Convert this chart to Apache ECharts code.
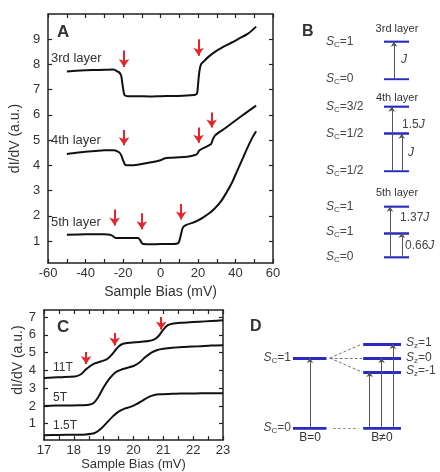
<!DOCTYPE html>
<html>
<head>
<meta charset="utf-8">
<script src="https://cdn.jsdelivr.net/npm/echarts@6/dist/echarts.min.js"></script>
<style>
  html, body { margin: 0; padding: 0; background: #fff; }
  #chart { width: 440px; height: 472px; }
</style>
</head>
<body>
<div id="chart"></div>
<script>
// ---- panel A: dI/dV for three layers ----
const layer3X = [-50, -45, -40, -35, -30, -25, -23, -22, -21, -20.5, -20, -19.5, -19, -17, -12, -6, 0, 6, 12, 16, 18.5, 19.5, 20, 20.5, 21, 21.7, 23, 26, 29, 33, 38, 42, 46.7, 51]
const layer3Y = [7.72, 7.75, 7.77, 7.78, 7.79, 7.8, 7.72, 7.68, 7.55, 7.3, 7.05, 6.85, 6.77, 6.74, 6.74, 6.73, 6.74, 6.75, 6.76, 6.78, 6.8, 6.86, 7.2, 7.6, 7.85, 8.02, 8.12, 8.33, 8.5, 8.68, 8.87, 9.03, 9.22, 9.5]

const layer4X = [-50, -45, -40, -35, -30, -25, -22, -21, -20, -19, -18, -15, -10, -5, 0, 2, 5, 10, 15, 18, 19.5, 20.5, 22, 24, 26, 27, 28, 29, 31, 35, 40, 45, 51]
const layer4Y = [4.45, 4.5, 4.54, 4.57, 4.6, 4.6, 4.51, 4.4, 4.2, 4.03, 4.0, 4.0, 4.05, 4.12, 4.2, 4.27, 4.3, 4.32, 4.35, 4.4, 4.45, 4.58, 4.65, 4.72, 4.8, 4.85, 5.05, 5.18, 5.3, 5.5, 5.78, 6.05, 6.37]

const layer5X = [-50, -40, -30, -27, -25.5, -24, -20, -15, -12, -11, -10, -9, -5, 0, 5, 9, 10, 11, 12, 14, 17, 20, 23, 26, 29, 32, 35, 38, 41, 44, 47, 49, 51]
const layer5Y = [1.25, 1.27, 1.27, 1.25, 1.2, 1.12, 1.12, 1.12, 1.12, 1.05, 0.92, 0.88, 0.87, 0.88, 0.88, 0.9, 1.0, 1.3, 1.55, 1.65, 1.72, 1.82, 1.95, 2.1, 2.3, 2.55, 2.9, 3.3, 3.8, 4.3, 4.8, 5.1, 5.35]

const arrowAX = [-19.5, 20.3, -19.5, 20.3, 27.3, -24.5, -10, 11]
const arrowATop = [8.55, 9.0, 5.4, 5.5, 6.1, 2.25, 2.1, 2.47]
const arrowABot = [7.9, 8.35, 4.8, 4.9, 5.5, 1.62, 1.47, 1.85]

const tickA = [1, 2, 3, 4, 5, 6, 7, 8, 9]

// ---- panel C: field dependence, 5th layer ----
const c11X = [17, 17.3, 17.6, 17.9, 18.1, 18.25, 18.4, 18.55, 18.7, 18.9, 19.1, 19.25, 19.4, 19.5, 19.65, 19.9, 20.2, 20.5, 20.7, 20.85, 21.0, 21.15, 21.3, 21.6, 22, 22.4, 22.8, 23]
const c11Y = [3.57, 3.6, 3.62, 3.64, 3.68, 3.8, 4.05, 4.25, 4.4, 4.5, 4.62, 4.85, 5.15, 5.35, 5.5, 5.56, 5.6, 5.65, 5.75, 5.95, 6.3, 6.55, 6.63, 6.68, 6.72, 6.76, 6.8, 6.82]

const c5X = [17, 17.4, 17.8, 18.2, 18.5, 18.65, 18.8, 19.0, 19.2, 19.4, 19.6, 19.8, 20.0, 20.2, 20.4, 20.6, 20.8, 21.0, 21.3, 21.7, 22.2, 22.6, 23]
const c5Y = [2.0, 2.02, 2.03, 2.04, 2.07, 2.15, 2.45, 3.05, 3.55, 3.9, 4.05, 4.15, 4.25, 4.45, 4.75, 5.0, 5.15, 5.22, 5.28, 5.32, 5.36, 5.4, 5.42]

const c15X = [17, 17.5, 18, 18.4, 18.7, 18.9, 19.1, 19.3, 19.5, 19.7, 19.9, 20.1, 20.3, 20.5, 20.7, 20.9, 21.2, 21.6, 22, 22.5, 23]
const c15Y = [0.35, 0.37, 0.38, 0.4, 0.48, 0.7, 1.05, 1.4, 1.68, 1.85, 1.95, 2.1, 2.3, 2.5, 2.62, 2.66, 2.68, 2.7, 2.7, 2.72, 2.72]

const arrowCX = [18.41, 19.37, 20.93]
const arrowCTop = [5.03, 6.1, 7.0]
const arrowCBot = [4.36, 5.4, 6.3]

const tickC = [1, 2, 3, 4, 5, 6, 7]

// ---- panel B: level schemes (energies in J, as drawn) ----
const levels3 = [0, 1]
const levels4 = [0, 0.87, 1.5]
const levels5 = [0, 0.66, 1.37]
const trans3X = [0.4]
const trans3To = [1]
const trans4X = [0.31, 0.71]
const trans4To = [1.5, 0.87]
const trans5X = [0.24, 0.71]
const trans5To = [1.37, 0.66]

// ---- panel D: Zeeman splitting ----
const levelsD0 = [0, 1]              // B = 0
const levelsDB = [0, 0.8, 1.0, 1.2]  // B != 0
const transDX = [0.157, 0.71, 0.82, 0.925]
const transDTo = [1.0, 0.8, 1.0, 1.2]
const splitTo = [1.2, 1.0, 0.8]

const font = "'Liberation Sans', Arial, sans-serif"
const ink = '#222'
const red = '#e3262b'
const blue = '#2a2ac2'

const zip = (xs, ys) => xs.map((x, i) => [x, ys[i]])
const vsegs = (xs, y0, y1) => xs.map((x, i) => ({ coords: [[x, Array.isArray(y0) ? y0[i] : y0], [x, y1[i]]] }))

function frameX(gridIndex, pos, min, max, interval, label, name, nameGap, nameSize) {
  return {
    gridIndex, type: 'value', position: pos, min, max, interval,
    axisLine: { onZero: false, lineStyle: { color: ink, width: 1.5 } },
    axisTick: { inside: true, length: 4, lineStyle: { color: ink, width: 1.2 } },
    axisLabel: label ? { show: true, formatter: label, color: '#333', fontSize: 13, fontFamily: font, margin: 4 } : { show: false },
    splitLine: { show: false },
    name: name || '', nameLocation: 'middle', nameGap: nameGap || 0,
    nameTextStyle: { fontSize: nameSize || 14, color: '#333', fontFamily: font }
  }
}
function frameY(gridIndex, pos, min, max, ticks, showLabel, name, nameGap, pad) {
  return {
    gridIndex, type: 'value', position: pos, min, max,
    axisLine: { onZero: false, lineStyle: { color: ink, width: 1.5 } },
    axisTick: { inside: true, length: 4, customValues: ticks, lineStyle: { color: ink, width: 1.2 } },
    axisLabel: showLabel ? { show: true, customValues: ticks, color: '#333', fontSize: 13, fontFamily: font, margin: 8 } : { show: false },
    splitLine: { show: false },
    name: name || '', nameLocation: 'middle', nameGap: nameGap || 0,
    nameTextStyle: { fontSize: 14, color: '#333', fontFamily: font, padding: pad || 0 }
  }
}
function hidden(gridIndex, min, max) {
  return { gridIndex, type: 'value', min, max, show: false, splitLine: { show: false } }
}
function curve(x, y, xi, yi) {
  return { type: 'line', data: zip(x, y), xAxisIndex: xi, yAxisIndex: yi, showSymbol: false, smooth: 0.25,
    lineStyle: { color: '#111', width: 2 }, silent: true }
}
function arrows(data, xi, yi, color, width, size) {
  return { type: 'lines', coordinateSystem: 'cartesian2d', xAxisIndex: xi, yAxisIndex: yi, data,
    symbol: ['none', 'arrow'], symbolSize: size, lineStyle: { color, width, opacity: 1, curveness: 0 }, silent: true }
}
function levels(vals, x0, x1, xi, yi, width) {
  return { type: 'lines', coordinateSystem: 'cartesian2d', xAxisIndex: xi, yAxisIndex: yi,
    data: vals.map(v => ({ coords: [[x0, v], [x1, v]] })), symbol: 'none',
    lineStyle: { color: blue, width, opacity: 1 }, silent: true }
}

const rich = {
  i: { fontStyle: 'italic', fontSize: 12, fontFamily: font, fill: '#444', lineHeight: 14, verticalAlign: 'middle' },
  b: { fontSize: 8, fontFamily: font, fill: '#444', lineHeight: 14, verticalAlign: 'bottom' },
  t: { fontSize: 12, fontFamily: font, fill: '#444', lineHeight: 14, verticalAlign: 'middle' }
}
function sText(sub, val, x, y, align) {
  return { type: 'text', x, y, silent: true,
    style: { text: `{i|S}{b|${sub}}{t|=${val}}`, rich, align: align || 'left', verticalAlign: 'middle' } }
}
function jText(num, x, y) {
  return { type: 'text', x, y, silent: true,
    style: { text: `{t|${num}}{i|J}`, rich, align: 'left', verticalAlign: 'middle' } }
}
function txt(text, x, y, size, align, bold) {
  return { type: 'text', x, y, silent: true,
    style: { text, fill: '#333', font: `${bold ? 'bold ' : ''}${size}px ${font}`, align: align || 'left', verticalAlign: 'middle' } }
}

const option = {
  animation: false,
  backgroundColor: '#fff',
  grid: [
    { left: 44, top: 14, width: 229, height: 249 },    // A
    { left: 44, top: 310, width: 179, height: 133 },   // C
    { left: 384, top: 41.7, width: 25, height: 37.3 }, // B 3rd
    { left: 384, top: 106.7, width: 25, height: 64.3 },// B 4th
    { left: 384, top: 206.7, width: 25, height: 50.6 },// B 5th
    { left: 293, top: 344, width: 108, height: 84.3 }  // D
  ],
  xAxis: [
    frameX(0, 'bottom', -60, 60, 10, v => (v % 20 === 0 ? v : ''), 'Sample Bias (mV)', 17, 14),
    frameX(0, 'top', -60, 60, 10, null),
    frameX(1, 'bottom', 17, 23, 0.5, v => (v % 1 === 0 ? v : ''), 'Sample Bias (mV)', 15, 13),
    frameX(1, 'top', 17, 23, 0.5, null),
    hidden(2, 0, 1), hidden(3, 0, 1), hidden(4, 0, 1), hidden(5, 0, 1)
  ],
  yAxis: [
    frameY(0, 'left', 0.13, 10, tickA, true, 'dI/dV (a.u.)', 24),
    frameY(0, 'right', 0.13, 10, tickA, false),
    frameY(1, 'left', 0.08, 7.4, tickC, true, 'dI/dV (a.u.)', 19, [0, 0, 0, 30]),
    frameY(1, 'right', 0.08, 7.4, tickC, false),
    hidden(2, 0, 1), hidden(3, 0, 1.5), hidden(4, 0, 1.37), hidden(5, 0, 1.2)
  ],
  series: [
    curve(layer3X, layer3Y, 0, 0),
    curve(layer4X, layer4Y, 0, 0),
    curve(layer5X, layer5Y, 0, 0),
    arrows(vsegs(arrowAX, arrowATop, arrowABot), 0, 0, red, 2, 8),
    curve(c11X, c11Y, 2, 2),
    curve(c5X, c5Y, 2, 2),
    curve(c15X, c15Y, 2, 2),
    arrows(vsegs(arrowCX, arrowCTop, arrowCBot), 2, 2, red, 2, 8),
    // B
    levels(levels3, 0, 1, 4, 4, 2.5),
    arrows(vsegs(trans3X, 0, trans3To), 4, 4, '#555', 1, 5),
    levels(levels4, 0, 1, 5, 5, 2.5),
    arrows(vsegs(trans4X, 0, trans4To), 5, 5, '#555', 1, 5),
    levels(levels5, 0, 1, 6, 6, 2.5),
    arrows(vsegs(trans5X, 0, trans5To), 6, 6, '#555', 1, 5),
    // D
    levels(levelsD0, 0, 0.31, 7, 7, 3),
    levels(levelsDB, 0.65, 1, 7, 7, 3),
    arrows(vsegs(transDX, 0, transDTo), 7, 7, '#555', 1, 5),
    { type: 'lines', coordinateSystem: 'cartesian2d', xAxisIndex: 7, yAxisIndex: 7, symbol: 'none', silent: true,
      data: splitTo.map(v => ({ coords: [[0.34, 1.0], [0.64, v]] })).concat([{ coords: [[0.37, 0], [0.61, 0]] }]),
      lineStyle: { color: '#777', width: 1, type: [3, 2], opacity: 1 } }
  ],
  graphic: [
    txt('A', 57, 32, 17, 'left', true),
    txt('3rd layer', 51, 58, 13),
    txt('4th layer', 51, 140, 13),
    txt('5th layer', 51, 222, 13),
    txt('C', 57, 327, 17, 'left', true),
    txt('11T', 53, 368, 12),
    txt('5T', 53, 398, 12),
    txt('1.5T', 53, 426, 12),
    txt('B', 302, 32, 16, 'left', true),
    txt('3rd layer', 397, 29, 11, 'center'),
    sText('C', '1', 326, 42), sText('C', '0', 326, 79),
    jText('', 401, 60),
    txt('4th layer', 397, 98, 11, 'center'),
    sText('C', '3/2', 326, 107), sText('C', '1/2', 326, 134), sText('C', '1/2', 326, 171),
    jText('1.5', 402, 125), jText('', 408, 153),
    txt('5th layer', 397, 193, 11, 'center'),
    sText('C', '1', 326, 207), sText('C', '1', 326, 232), sText('C', '0', 326, 257),
    jText('1.37', 400, 218), jText('0.66', 405, 246),
    txt('D', 250, 327, 16, 'left', true),
    sText('C', '1', 291, 358, 'right'), sText('C', '0', 291, 428, 'right'),
    txt('B=0', 310, 438, 12, 'center'), txt('B≠0', 382, 438, 12, 'center'),
    sText('z', '1', 406, 343), sText('z', '0', 406, 358), sText('z', '-1', 406, 371)
  ]
}

const myChart = echarts.init(document.getElementById('chart'), null, { renderer: 'canvas' })
myChart.setOption(option)
</script>
</body>
</html>
